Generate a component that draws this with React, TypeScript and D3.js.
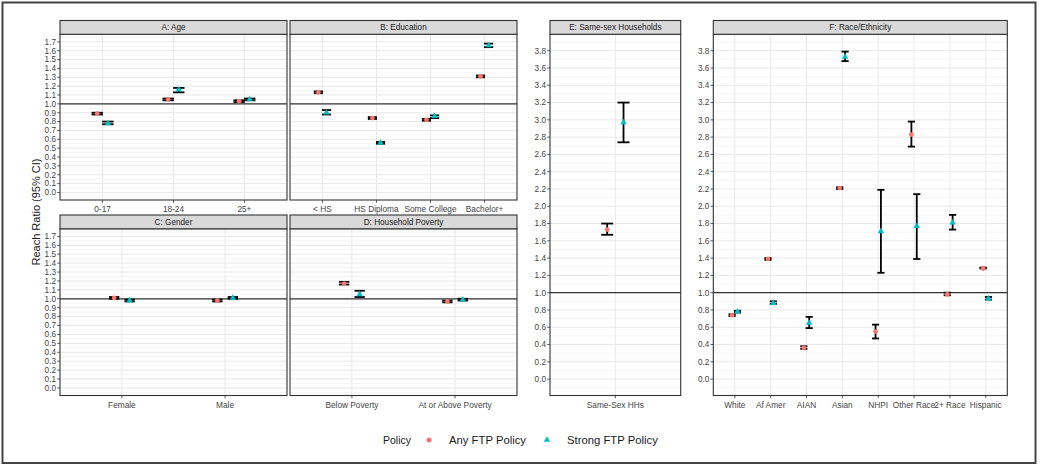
import React from 'react';
import * as d3 from 'd3';

// each entry: [estimate, lower CI, upper CI]
type Est = [number, number, number];

const ageCats = ['0-17', '18-24', '25+'];
const ageAny: Est[] = [[0.89, 0.88, 0.9], [1.05, 1.04, 1.06], [1.03, 1.02, 1.04]];
const ageStrong: Est[] = [[0.78, 0.77, 0.8], [1.16, 1.13, 1.18], [1.05, 1.04, 1.06]];

const eduCats = ['< HS', 'HS Diploma', 'Some College', 'Bachelor+'];
const eduAny: Est[] = [[1.13, 1.12, 1.14], [0.84, 0.83, 0.85], [0.82, 0.81, 0.83], [1.31, 1.3, 1.32]];
const eduStrong: Est[] = [[0.9, 0.88, 0.93], [0.56, 0.55, 0.57], [0.86, 0.84, 0.87], [1.66, 1.64, 1.68]];

const genderCats = ['Female', 'Male'];
const genderAny: Est[] = [[1.01, 1.0, 1.02], [0.98, 0.97, 0.99]];
const genderStrong: Est[] = [[0.98, 0.97, 0.99], [1.01, 1.0, 1.02]];

const povCats = ['Below Poverty', 'At or Above Poverty'];
const povAny: Est[] = [[1.17, 1.16, 1.19], [0.97, 0.96, 0.98]];
const povStrong: Est[] = [[1.05, 1.02, 1.09], [0.99, 0.98, 1.0]];

const ssCats = ['Same-Sex HHs'];
const ssAny: Est[] = [[1.73, 1.67, 1.8]];
const ssStrong: Est[] = [[2.97, 2.74, 3.2]];

const raceCats = ['White', 'Af Amer', 'AIAN', 'Asian', 'NHPI', 'Other Race', '2+ Race', 'Hispanic'];
const raceAny: Est[] = [
  [0.74, 0.73, 0.75], [1.39, 1.38, 1.4], [0.36, 0.35, 0.38], [2.21, 2.2, 2.22],
  [0.55, 0.47, 0.63], [2.83, 2.69, 2.98], [0.98, 0.97, 1.0], [1.28, 1.28, 1.29],
];
const raceStrong: Est[] = [
  [0.78, 0.77, 0.79], [0.88, 0.87, 0.9], [0.65, 0.59, 0.72], [3.73, 3.68, 3.79],
  [1.71, 1.23, 2.19], [1.77, 1.39, 2.14], [1.81, 1.73, 1.9], [0.93, 0.92, 0.95],
];

const smallTicks = [0, 0.1, 0.2, 0.3, 0.4, 0.5, 0.6, 0.7, 0.8, 0.9, 1.0, 1.1, 1.2, 1.3, 1.4, 1.5, 1.6, 1.7];
const bigTicks = [0, 0.2, 0.4, 0.6, 0.8, 1.0, 1.2, 1.4, 1.6, 1.8, 2.0, 2.2, 2.4, 2.6, 2.8, 3.0, 3.2, 3.4, 3.6, 3.8];

const policyNames = ['Any FTP Policy', 'Strong FTP Policy'];
const RED = '#F8766D';
const TEAL = '#00BFC4';
const FONT = '"Liberation Sans", Arial, Helvetica, sans-serif';

interface PanelSpec {
  title: string;
  cats: string[];
  any: Est[];
  strong: Est[];
  ticks: number[];
  x0: number;
  x1: number;
  top: number; // strip top
  bottom: number; // plot bottom
  showY: boolean;
  cap: number; // cap width in category units
}

const STRIP_H = 13.8;
const smallDom = [-0.085, 1.785];
const bigDom = [-0.19, 3.99];

const panels: PanelSpec[] = [
  { title: 'A: Age', cats: ageCats, any: ageAny, strong: ageStrong, ticks: smallTicks, x0: 60, x1: 287, top: 20.5, bottom: 200, showY: true, cap: 0.16 },
  { title: 'B: Education', cats: eduCats, any: eduAny, strong: eduStrong, ticks: smallTicks, x0: 290, x1: 517, top: 20.5, bottom: 200, showY: false, cap: 0.17 },
  { title: 'C: Gender', cats: genderCats, any: genderAny, strong: genderStrong, ticks: smallTicks, x0: 60, x1: 287, top: 215, bottom: 395.5, showY: true, cap: 0.1 },
  { title: 'D: Household Poverty', cats: povCats, any: povAny, strong: povStrong, ticks: smallTicks, x0: 290, x1: 517, top: 215, bottom: 395.5, showY: false, cap: 0.1 },
  { title: 'E: Same-sex Households', cats: ssCats, any: ssAny, strong: ssStrong, ticks: bigTicks, x0: 550, x1: 680.7, top: 20.5, bottom: 395.5, showY: true, cap: 0.11 },
  { title: 'F: Race/Ethnicity', cats: raceCats, any: raceAny, strong: raceStrong, ticks: bigTicks, x0: 713.3, x1: 1007.3, top: 20.5, bottom: 395.5, showY: true, cap: 0.2 },
];

const triangle = d3.symbol(d3.symbolTriangle, 18)();

function Panel({ p }: { p: PanelSpec }) {
  const plotTop = p.top + STRIP_H;
  const x = d3.scalePoint<string>().domain(p.cats).range([p.x0, p.x1]).padding(0.6);
  const step = x.step();
  const dom = p.ticks === bigTicks ? bigDom : smallDom;
  const y = d3.scaleLinear().domain(dom).range([p.bottom, plotTop]);
  const half = (p.ticks[1] - p.ticks[0]) / 2;
  const minor = [p.ticks[0] - half, ...p.ticks.map(t => t + half)].filter(v => v >= dom[0] && v <= dom[1]);
  const dodge = 0.075 * step;
  const capW = p.cap * step;
  const fmt = d3.format('.1f');

  const bars = (data: Est[], off: number, key: string) =>
    data.map((d, i) => {
      const cx = (x(p.cats[i]) as number) + off;
      return (
        <g key={key + i} stroke="#000" strokeWidth={1.8}>
          <line x1={cx} x2={cx} y1={y(d[1])} y2={y(d[2])} />
          <line x1={cx - capW / 2} x2={cx + capW / 2} y1={y(d[1])} y2={y(d[1])} />
          <line x1={cx - capW / 2} x2={cx + capW / 2} y1={y(d[2])} y2={y(d[2])} />
        </g>
      );
    });

  return (
    <g>
      <rect x={p.x0} y={plotTop} width={p.x1 - p.x0} height={p.bottom - plotTop} fill="#fff" />
      {minor.map(v => (
        <line key={'mn' + v} x1={p.x0} x2={p.x1} y1={y(v)} y2={y(v)} stroke="#f0f0f0" strokeWidth={0.7} />
      ))}
      {p.ticks.map(v => (
        <line key={'mj' + v} x1={p.x0} x2={p.x1} y1={y(v)} y2={y(v)} stroke="#e8e8e8" strokeWidth={1} />
      ))}
      {p.cats.map(c => (
        <line key={'vg' + c} x1={x(c)} x2={x(c)} y1={plotTop} y2={p.bottom} stroke="#e8e8e8" strokeWidth={1} />
      ))}
      <line x1={p.x0} x2={p.x1} y1={y(1)} y2={y(1)} stroke="#333" strokeWidth={1.2} />
      {bars(p.any, -dodge, 'a')}
      {bars(p.strong, dodge, 's')}
      {p.any.map((d, i) => (
        <circle key={'pa' + i} cx={(x(p.cats[i]) as number) - dodge} cy={y(d[0])} r={2.4} fill={RED} />
      ))}
      {p.strong.map((d, i) => (
        <path key={'ps' + i} d={triangle as string} fill={TEAL}
          transform={`translate(${(x(p.cats[i]) as number) + dodge},${y(d[0])})`} />
      ))}
      <rect x={p.x0} y={plotTop} width={p.x1 - p.x0} height={p.bottom - plotTop} fill="none" stroke="#333" strokeWidth={1.1} />
      <rect x={p.x0} y={p.top} width={p.x1 - p.x0} height={STRIP_H} fill="#d9d9d9" stroke="#333" strokeWidth={1.1} />
      <text x={(p.x0 + p.x1) / 2} y={p.top + STRIP_H / 2} dy="0.35em" textAnchor="middle" fontSize={8.2} fill="#1a1a1a">
        {p.title}
      </text>
      {p.showY &&
        p.ticks.map(v => (
          <g key={'yt' + v}>
            <line x1={p.x0 - 2.8} x2={p.x0} y1={y(v)} y2={y(v)} stroke="#333" strokeWidth={0.8} />
            <text x={p.x0 - 4} y={y(v)} dy="0.35em" textAnchor="end" fontSize={8.2} fill="#444">
              {fmt(v)}
            </text>
          </g>
        ))}
      {p.cats.map(c => (
        <g key={'xt' + c}>
          <line x1={x(c)} x2={x(c)} y1={p.bottom} y2={p.bottom + 2.8} stroke="#333" strokeWidth={0.8} />
          <text x={x(c)} y={p.bottom + 6.3} dy="0.71em" textAnchor="middle" fontSize={8.3} fill="#444">
            {c}
          </text>
        </g>
      ))}
    </g>
  );
}

export default function App() {
  const W = 1042;
  const H = 467;
  return (
    <div style={{ position: 'absolute', left: 0, top: 0 }}>
      <svg width={W} height={H} style={{ display: 'block', fontFamily: FONT }}>
        <rect x={0} y={0} width={W} height={H} fill="#fff" />
        <rect x={2.5} y={2.5} width={1033} height={460.5} fill="none" stroke="#444" strokeWidth={2} />
        {panels.map(p => (
          <Panel key={p.title} p={p} />
        ))}
        <text transform="translate(40,212) rotate(-90)" textAnchor="middle" fontSize={11} fill="#1a1a1a">
          Reach Ratio (95% CI)
        </text>
        <g fontSize={11.3} fill="#1a1a1a">
          <text x={383} y={440} dy="0.35em" fontSize={10.5}>Policy</text>
          <circle cx={429} cy={440} r={2.5} fill={RED} />
          <text x={449} y={440} dy="0.35em">{policyNames[0]}</text>
          <path d={triangle as string} fill={TEAL} transform="translate(547,440)" />
          <text x={567} y={440} dy="0.35em">{policyNames[1]}</text>
        </g>
      </svg>
    </div>
  );
}
